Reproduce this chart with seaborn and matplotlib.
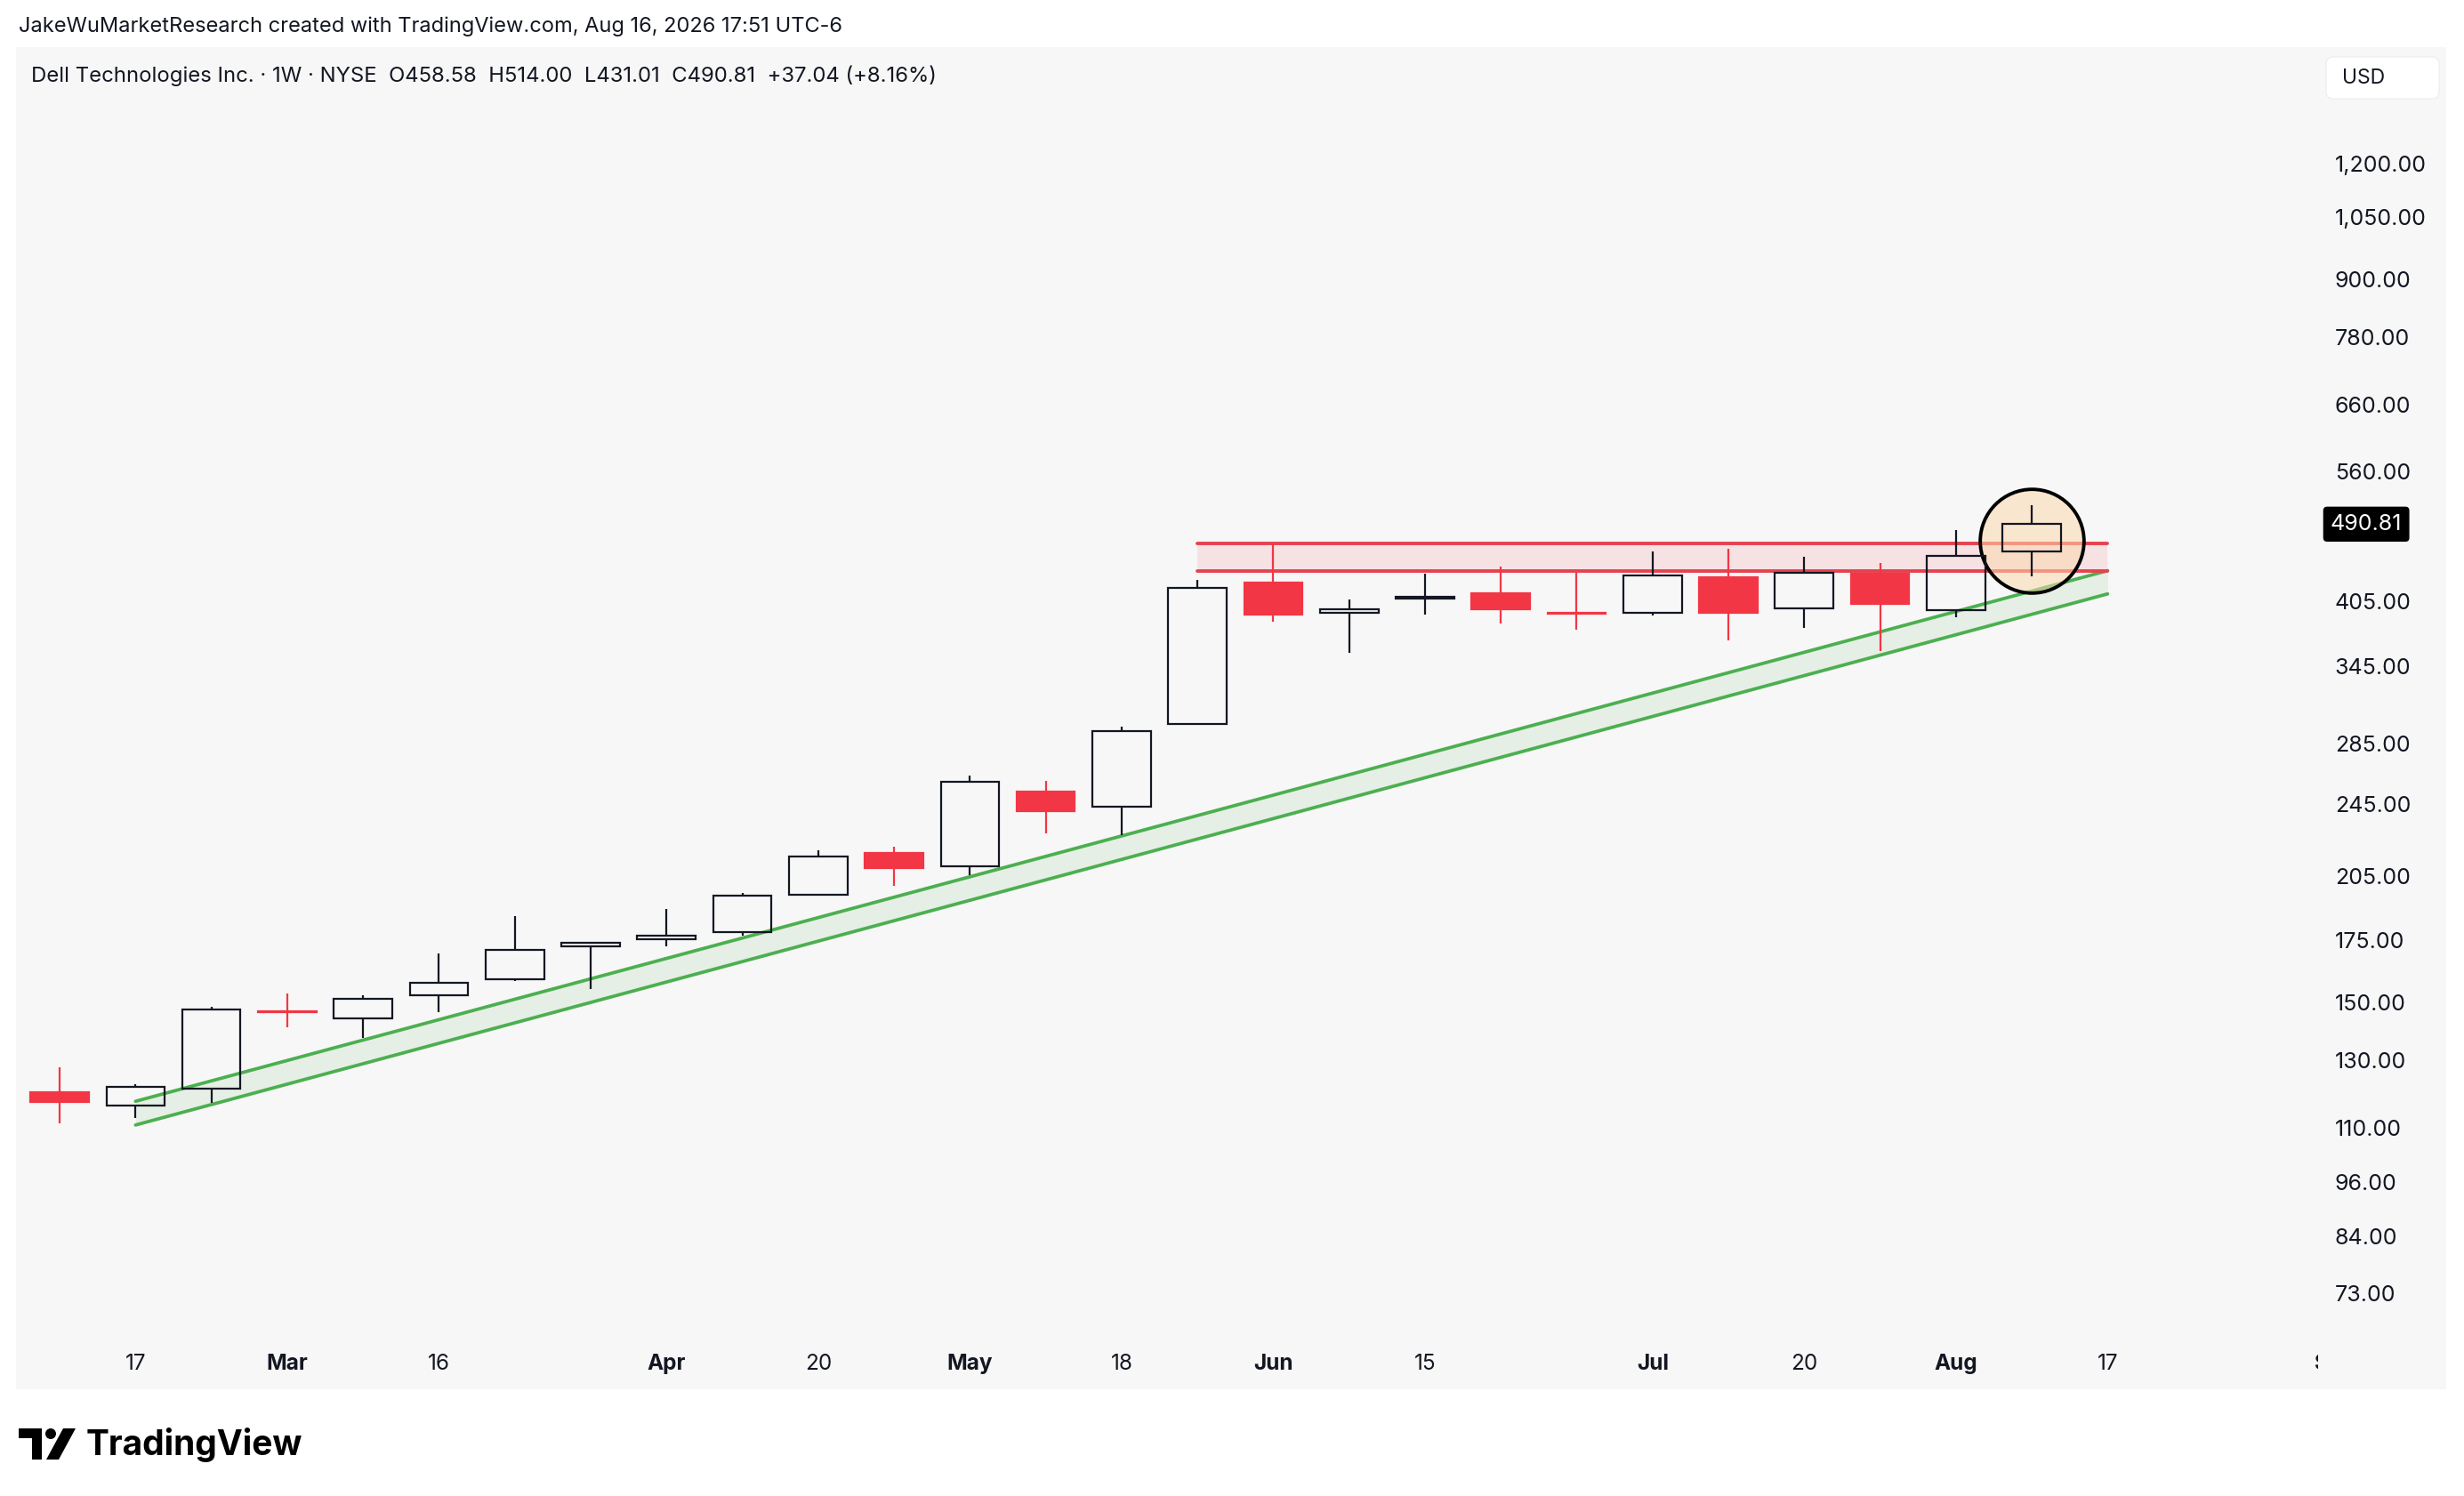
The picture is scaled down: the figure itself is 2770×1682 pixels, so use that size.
import numpy as np
import pandas as pd
import seaborn as sns
import matplotlib.pyplot as plt
from matplotlib.patches import Rectangle, FancyBboxPatch, Circle, Polygon
from matplotlib.ticker import NullLocator
from matplotlib import transforms

# Weekly DELL candles (oldest first)
opens = [120.0, 116.1, 121.2, 146.8, 144.2, 152.7, 158.9, 172.3, 175.5, 178.7,
         195.9, 217.3, 210.2, 253.0, 243.7, 299.1, 424.5, 393.8, 408.0, 413.3,
         393.8, 394.1, 430.3, 398.5, 434.2, 396.7, 458.58]
highs = [127.7, 122.4, 148.5, 153.5, 152.6, 169.3, 185.8, 174.3, 189.0, 196.6,
         218.8, 220.5, 263.1, 259.7, 297.0, 427.6, 468.4, 407.0, 434.2, 441.6,
         435.2, 458.7, 461.5, 452.8, 445.5, 483.8, 514.00]
lows = [111.1, 112.7, 117.0, 140.9, 137.5, 146.3, 158.3, 155.2, 172.3, 176.9,
        195.5, 200.4, 205.5, 228.3, 226.9, 298.3, 385.3, 356.6, 392.6, 384.1,
        377.5, 391.7, 367.6, 379.9, 358.1, 389.5, 431.01]
closes = [117.2, 121.8, 147.5, 146.4, 151.2, 157.3, 171.0, 173.8, 177.1, 195.6,
          215.3, 209.5, 259.4, 241.2, 294.1, 418.9, 392.6, 397.3, 409.5, 397.8,
          393.2, 432.6, 394.4, 435.2, 403.2, 453.77, 490.81]

# time axis labels (bar index -> label)
tick_pos = [1, 3, 5, 8, 10, 12, 14, 16, 18, 21, 23, 25, 27]
tick_labels = ['17', 'Mar', '16', 'Apr', '20', 'May', '18', 'Jun', '15', 'Jul', '20', 'Aug', '17']
months = ['Mar', 'Apr', 'May', 'Jun', 'Jul', 'Aug']

price_ticks = [1200, 1050, 900, 780, 660, 560, 405, 345, 285, 245, 205, 175,
               150, 130, 110, 96, 84, 73]

# drawings on the chart
band_levels = [437.4, 468.4]
band_span = [15, 27]
channel_x = [1, 27]
channel_upper = [117.4, 437.4]
channel_lower = [110.7, 412.9]

df = pd.DataFrame({'open': opens, 'high': highs, 'low': lows, 'close': closes})
df['x'] = np.arange(len(df))
df['up'] = df['close'] >= df['open']

sns.set_theme(style='white')
plt.rcParams['font.family'] = ['Inter', 'DejaVu Sans']

W, H = 2770, 1682
BG = '#f7f7f7'
INK = '#131722'
RED = '#f23645'
GREEN = '#4caf50'

fig = plt.figure(figsize=(W / 100, H / 100), dpi=100)
fig.patch.set_facecolor('white')
inch = fig.dpi_scale_trans


def px(x, y):
    return (x / 100, (H - y) / 100)


fig.patches.append(Rectangle(px(18, 1562), (2750 - 18) / 100, (1562 - 53) / 100,
                             transform=inch, fc=BG, ec='none', zorder=-10))

ax = fig.add_axes([18 / W, 1 - 1505 / H, (2606 - 18) / W, (1505 - 53) / H])
ax.set_zorder(1)
ax.patch.set_alpha(0)
ax.set_yscale('log')
ax.set_ylim(65.2, 1601)
ax.set_xlim(-0.576, 29.775)

# rising channel
ax.fill_between(channel_x, channel_lower, channel_upper, color=GREEN, alpha=0.1, lw=0, zorder=1)
sns.lineplot(x=channel_x, y=channel_upper, ax=ax, color=GREEN, lw=2.7, zorder=2,
             solid_capstyle='round')
sns.lineplot(x=channel_x, y=channel_lower, ax=ax, color=GREEN, lw=2.7, zorder=2,
             solid_capstyle='round')

# resistance band
ax.fill_between(band_span, band_levels[0], band_levels[1], color=RED, alpha=0.11, lw=0, zorder=2)
for lvl in band_levels:
    ax.plot(band_span, [lvl, lvl], color='#e8414e', lw=2.8, zorder=3, solid_capstyle='round')

# highlight circle around the latest candle
last = df.iloc[-1]
ax.scatter([last['x']], [np.sqrt(last['high'] * last['low'])], s=84 ** 2,
           facecolor=(0.988, 0.85, 0.68, 0.55), edgecolor='black', lw=2.8, zorder=4)

# candles (hollow up bars, filled red down bars)
body_w = 0.77
for _, r in df.iterrows():
    top = max(r['open'], r['close'])
    bot = min(r['open'], r['close'])
    col = INK if r['up'] else RED
    ax.vlines(r['x'], top, r['high'], color=col, lw=1.6, zorder=5)
    ax.vlines(r['x'], r['low'], bot, color=col, lw=1.6, zorder=5)
    ax.bar(r['x'], top - bot, bottom=bot, width=body_w,
           facecolor='none' if r['up'] else RED, edgecolor=col, lw=1.6, zorder=5)

# price scale on the right
ax.yaxis.tick_right()
ax.set_yticks(price_ticks)
ax.set_yticklabels([f'{v:,.2f}' for v in price_ticks])
ax.yaxis.set_minor_locator(NullLocator())
ax.tick_params(axis='y', length=0, pad=13.5, labelsize=18, labelcolor=INK)
ax.annotate(f'{closes[-1]:.2f}', xy=(1, closes[-1]), xycoords=('axes fraction', 'data'),
            xytext=(10, 0), textcoords='offset points', ha='left', va='center',
            fontsize=18, color='white',
            bbox=dict(boxstyle='round,pad=0.3,rounding_size=0.15', fc='black', ec='black'))

# time axis
ax.set_xticks(tick_pos)
ax.set_xticklabels(tick_labels)
ax.tick_params(axis='x', length=0, pad=12, labelsize=17.5, labelcolor=INK)
for lab in ax.get_xticklabels():
    if lab.get_text() in months:
        lab.set_fontweight('bold')
off = transforms.offset_copy(transforms.blended_transform_factory(ax.transData, ax.transAxes),
                             fig=fig, y=-12, units='points')
sep = ax.text(30, 0, 'Sep', transform=off, ha='center', va='top', fontsize=17.5,
              fontweight='bold', color=INK)
sep.set_clip_box(transforms.TransformedBbox(transforms.Bbox([[0, -1], [1, 1]]), ax.transAxes))
sep.set_clip_on(True)

for s in ax.spines.values():
    s.set_visible(False)
ax.grid(False)

# header texts
fig.text(21 / W, 1 - 30 / H,
         'JakeWuMarketResearch created with TradingView.com, Aug 16, 2026 17:51 UTC-6',
         fontsize=17, color=INK, ha='left', va='center')
fig.text(35 / W, 1 - 85 / H,
         'Dell Technologies Inc. · 1W · NYSE  O458.58  H514.00  L431.01  C490.81  +37.04 (+8.16%)',
         fontsize=17.2, color=INK, ha='left', va='center')

# currency box
fig.patches.append(FancyBboxPatch(px(2615, 111), 1.27, 0.47, transform=inch,
                                  boxstyle='round,pad=0,rounding_size=0.08',
                                  fc='white', ec='#ececec', lw=0.8, zorder=1))
fig.text(2633 / W, 1 - 88 / H, 'USD', fontsize=16.5, color=INK, ha='left', va='center')

# TradingView logo
fig.patches.append(Rectangle(px(21, 1617), 0.26, 0.11, transform=inch, fc='black', ec='none'))
fig.patches.append(Rectangle(px(36, 1641), 0.11, 0.35, transform=inch, fc='black', ec='none'))
fig.patches.append(Circle(px(57, 1612), 0.06, transform=inch, fc='black', ec='none'))
fig.patches.append(Polygon([px(52, 1641), px(66, 1641), px(85, 1606), px(71, 1606)],
                           closed=True, transform=inch, fc='black', ec='none'))
fig.text(97 / W, 1 - 1624 / H, 'TradingView', fontsize=28, fontweight='bold',
         color='black', ha='left', va='center')

fig.savefig('out.png', dpi=100, facecolor='white')
